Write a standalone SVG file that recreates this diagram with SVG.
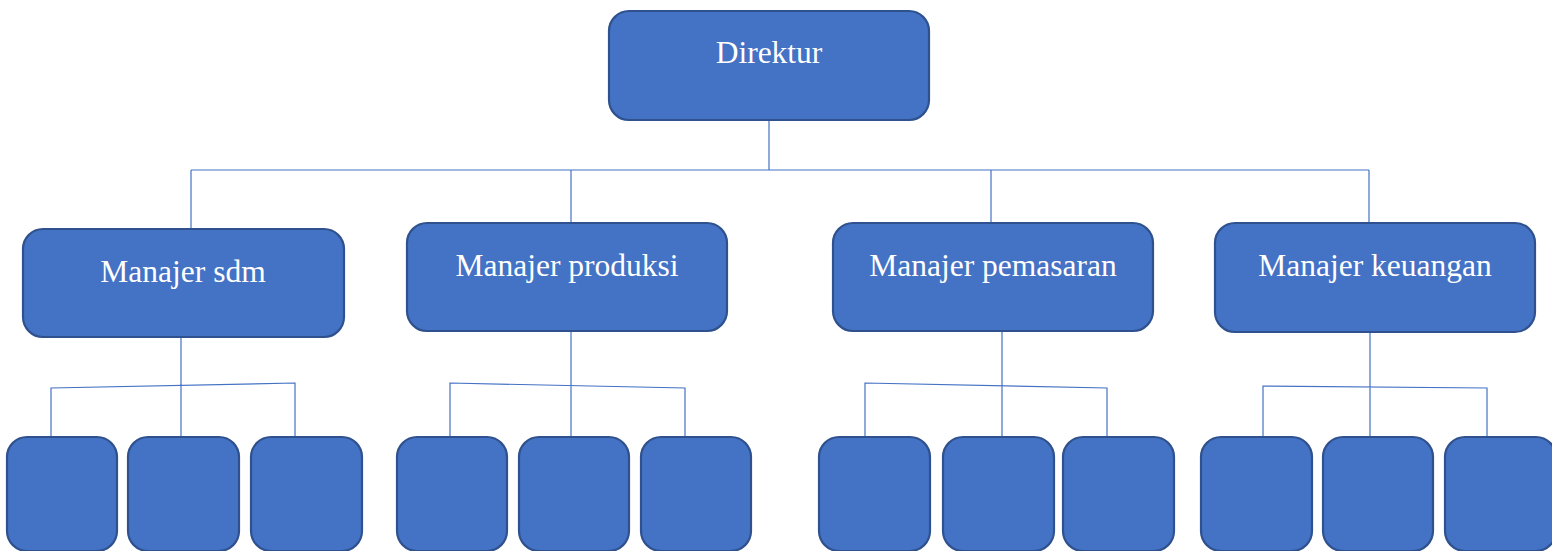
<svg xmlns="http://www.w3.org/2000/svg" width="1552" height="551" viewBox="0 0 1552 551">
<style>
.box{fill:#4472C4;stroke:#2F528F;stroke-width:2.2}
.lbl{fill:#fff;font-family:"Liberation Serif","DejaVu Serif",serif;font-size:31.5px;text-anchor:middle}
.con{stroke:#4472C4;stroke-width:1.2;fill:none}
</style>
<rect width="1552" height="551" fill="#fff"/>
<g id="connectors">
<path class="con" d="M769 120V170M191 170H1369M191 170V229M571 170V223M991 170V223M1369 170V223"/>
<path class="con" d="M181 337V437M51 437V388L295 383V437"/>
<path class="con" d="M571 331V437M450 437V383L685 388V437"/>
<path class="con" d="M1002 331V437M865 437V383L1107 388V437"/>
<path class="con" d="M1370 332V437M1263 437V386L1487 388V437"/>
</g>
<g id="direktur"><rect class="box" x="609" y="11" width="320" height="109" rx="20"/><text class="lbl" x="769" y="63">Direktur</text></g>
<g id="manajer-sdm"><rect class="box" x="23" y="229" width="321" height="108" rx="20"/><text class="lbl" x="183" y="282">Manajer sdm</text></g>
<g id="manajer-produksi"><rect class="box" x="407" y="223" width="320" height="108" rx="20"/><text class="lbl" x="567" y="276">Manajer produksi</text></g>
<g id="manajer-pemasaran"><rect class="box" x="833" y="223" width="320" height="108" rx="20"/><text class="lbl" x="993" y="276">Manajer pemasaran</text></g>
<g id="manajer-keuangan"><rect class="box" x="1215" y="223" width="320" height="109" rx="20"/><text class="lbl" x="1375" y="276">Manajer keuangan</text></g>
<g id="sdm-1"><rect class="box" x="7" y="437" width="110" height="114" rx="20"/></g>
<g id="sdm-2"><rect class="box" x="128" y="437" width="111" height="114" rx="20"/></g>
<g id="sdm-3"><rect class="box" x="251" y="437" width="111" height="114" rx="20"/></g>
<g id="produksi-1"><rect class="box" x="397" y="437" width="110" height="114" rx="20"/></g>
<g id="produksi-2"><rect class="box" x="519" y="437" width="110" height="114" rx="20"/></g>
<g id="produksi-3"><rect class="box" x="641" y="437" width="110" height="114" rx="20"/></g>
<g id="pemasaran-1"><rect class="box" x="819" y="437" width="111" height="114" rx="20"/></g>
<g id="pemasaran-2"><rect class="box" x="943" y="437" width="111" height="114" rx="20"/></g>
<g id="pemasaran-3"><rect class="box" x="1063" y="437" width="111" height="114" rx="20"/></g>
<g id="keuangan-1"><rect class="box" x="1201" y="437" width="111" height="114" rx="20"/></g>
<g id="keuangan-2"><rect class="box" x="1323" y="437" width="110" height="114" rx="20"/></g>
<g id="keuangan-3"><rect class="box" x="1445" y="437" width="111" height="114" rx="20"/></g>
</svg>
